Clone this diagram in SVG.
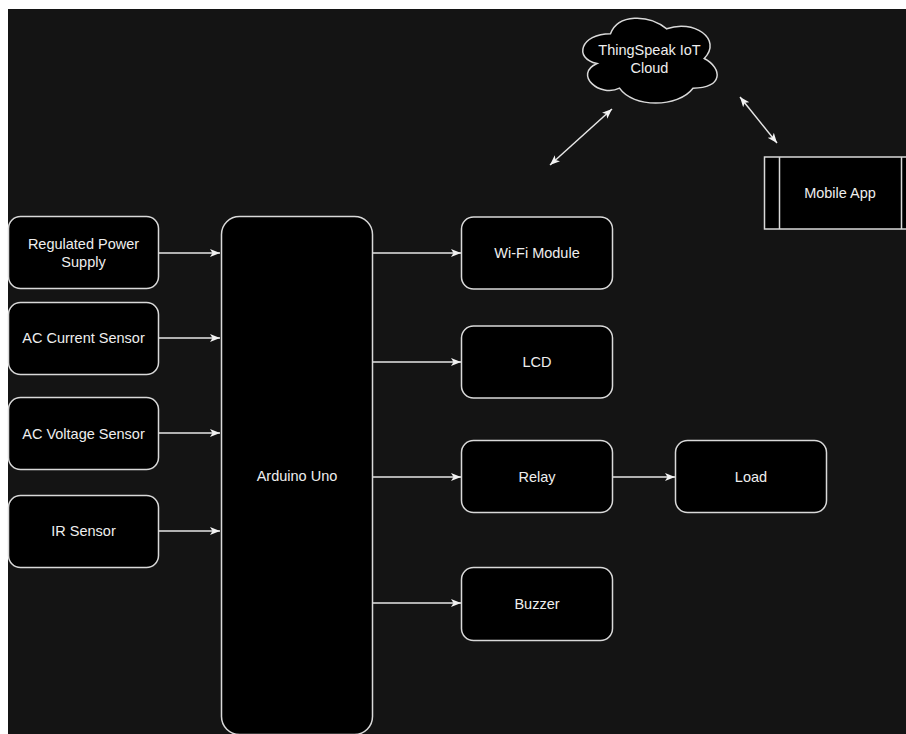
<svg xmlns="http://www.w3.org/2000/svg" width="906" height="734" viewBox="0 0 906 734">
<style>
.box{fill:#000;stroke:#d9d9d9;stroke-width:1.5}
.lbl{font-family:"Liberation Sans",Arial,sans-serif;font-size:14.5px;fill:#eeeeee;text-anchor:middle}
.con{stroke:#e6e6e6;stroke-width:1.5;fill:none}
</style>
<defs>
<marker id="ah" viewBox="0 0 10 10" refX="10" refY="5" markerWidth="10" markerHeight="10" markerUnits="userSpaceOnUse" orient="auto-start-reverse">
<path d="M0,1 L10,5 L0,9 L2.5,5 Z" fill="#f2f2f2"/>
</marker>
</defs>
<rect x="0" y="0" width="906" height="734" fill="#ffffff"/>
<rect x="8" y="9" width="898" height="725" fill="#141414"/>

<g id="connectors">
<line class="con" x1="158.5" y1="253" x2="220" y2="253" marker-end="url(#ah)"/>
<line class="con" x1="158.5" y1="338" x2="220" y2="338" marker-end="url(#ah)"/>
<line class="con" x1="158.5" y1="433" x2="220" y2="433" marker-end="url(#ah)"/>
<line class="con" x1="158.5" y1="531" x2="220" y2="531" marker-end="url(#ah)"/>
<line class="con" x1="372.5" y1="253" x2="461" y2="253" marker-end="url(#ah)"/>
<line class="con" x1="372.5" y1="362" x2="461" y2="362" marker-end="url(#ah)"/>
<line class="con" x1="372.5" y1="477" x2="461" y2="477" marker-end="url(#ah)"/>
<line class="con" x1="372.5" y1="603" x2="461" y2="603" marker-end="url(#ah)"/>
<line class="con" x1="612.5" y1="477" x2="675" y2="477" marker-end="url(#ah)"/>
<line class="con" x1="550" y1="165" x2="612" y2="109" marker-start="url(#ah)" marker-end="url(#ah)"/>
<line class="con" x1="740" y1="97" x2="777" y2="143" marker-start="url(#ah)" marker-end="url(#ah)"/>
</g>

<g id="rps">
<rect class="box" x="8.5" y="216.5" width="150" height="72" rx="12"/>
<text class="lbl" x="83.5" y="249">Regulated Power</text>
<text class="lbl" x="83.5" y="266.5">Supply</text>
</g>
<g id="ac-current">
<rect class="box" x="8.5" y="302.5" width="150" height="72" rx="12"/>
<text class="lbl" x="83.5" y="343">AC Current Sensor</text>
</g>
<g id="ac-voltage">
<rect class="box" x="8.5" y="397.5" width="150" height="72" rx="12"/>
<text class="lbl" x="83.5" y="438.5">AC Voltage Sensor</text>
</g>
<g id="ir">
<rect class="box" x="8.5" y="495.5" width="150" height="72" rx="12"/>
<text class="lbl" x="83.5" y="536">IR Sensor</text>
</g>
<g id="arduino">
<rect class="box" x="221.5" y="216.5" width="151" height="518" rx="18"/>
<text class="lbl" x="297" y="481">Arduino Uno</text>
</g>
<g id="wifi">
<rect class="box" x="461.5" y="217" width="151" height="72" rx="12"/>
<text class="lbl" x="537" y="258">Wi-Fi Module</text>
</g>
<g id="lcd">
<rect class="box" x="461.5" y="326" width="151" height="72" rx="12"/>
<text class="lbl" x="537" y="367">LCD</text>
</g>
<g id="relay">
<rect class="box" x="461.5" y="440.5" width="151" height="72" rx="12"/>
<text class="lbl" x="537" y="481.5">Relay</text>
</g>
<g id="load">
<rect class="box" x="675.5" y="440.5" width="151" height="72" rx="12"/>
<text class="lbl" x="751" y="481.5">Load</text>
</g>
<g id="buzzer">
<rect class="box" x="461.5" y="567.5" width="151" height="73" rx="12"/>
<text class="lbl" x="537" y="609">Buzzer</text>
</g>
<g id="cloud">
<path class="box" d="M610.5 33.75 C580.5 33.75 573 58.5 597 63.45 C573 74.34 600 98.1 619.5 88.2 C633 108 678 108 693 88.2 C723 88.2 723 68.4 704.25 58.5 C723 38.7 693 18.9 666.75 28.8 C648 13.95 618 13.95 610.5 33.75 Z"/>
<text class="lbl" x="649.5" y="55">ThingSpeak IoT</text>
<text class="lbl" x="649.5" y="73">Cloud</text>
</g>
<g id="mobile">
<rect class="box" x="764.5" y="157" width="152" height="72"/>
<line class="box" x1="779.5" y1="157" x2="779.5" y2="229"/>
<line class="box" x1="901.5" y1="157" x2="901.5" y2="229"/>
<text class="lbl" x="840" y="197.5">Mobile App</text>
</g>
</svg>
